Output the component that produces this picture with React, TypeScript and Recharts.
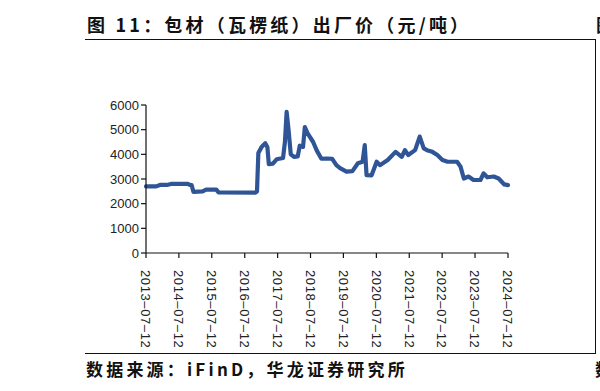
import React from 'react';
import { LineChart, Line, XAxis, YAxis } from 'recharts';

// 瓦楞纸出厂价 (元/吨)
const dates = [
  '2013-07-12', '2013-11-01', '2013-12-15', '2014-03-01', '2014-04-15', '2014-10-20', '2014-11-10',
  '2014-12-01', '2014-12-20', '2015-04-01', '2015-05-10', '2015-09-01', '2015-09-25', '2016-11-10',
  '2016-11-25', '2016-12-10', '2017-01-15', '2017-02-25', '2017-03-20', '2017-04-05', '2017-05-20',
  '2017-07-01', '2017-09-10', '2017-10-01', '2017-10-20', '2017-11-10', '2017-12-05', '2018-01-10',
  '2018-02-20', '2018-03-15', '2018-04-20', '2018-05-10', '2018-06-10', '2018-08-10', '2018-09-20',
  '2018-11-10', '2019-01-10', '2019-03-10', '2019-04-25', '2019-06-05', '2019-08-15', '2019-10-20',
  '2019-12-20', '2020-02-10', '2020-03-05', '2020-03-25', '2020-05-20', '2020-07-15', '2020-08-20',
  '2020-11-15', '2021-02-10', '2021-04-20', '2021-05-25', '2021-07-01', '2021-09-15', '2021-11-05',
  '2021-12-20', '2022-01-25', '2022-03-25', '2022-05-20', '2022-07-15', '2022-09-10', '2022-12-25',
  '2023-02-01', '2023-03-10', '2023-05-01', '2023-06-25', '2023-09-10', '2023-10-15', '2023-11-25',
  '2024-02-05', '2024-03-30', '2024-06-01', '2024-07-12',
];

const prices = [
  2700, 2700, 2760, 2760, 2800, 2800, 2760,
  2750, 2480, 2500, 2570, 2570, 2460, 2450,
  2500, 4050, 4300, 4450, 4300, 3600, 3620,
  3800, 3850, 4500, 5720, 5000, 4000, 3900,
  3920, 4350, 4300, 5100, 4850, 4500, 4150,
  3820, 3830, 3820, 3560, 3440, 3300, 3320,
  3640, 3700, 4370, 3160, 3150, 3700, 3560,
  3770, 4100, 3900, 4170, 3970, 4170, 4720,
  4240, 4170, 4100, 3970, 3770, 3700, 3700,
  3500, 3020, 3100, 2960, 2960, 3230, 3070,
  3100, 3020, 2780, 2750,
];

const xTickLabels = [
  '2013-07-12', '2014-07-12', '2015-07-12', '2016-07-12', '2017-07-12', '2018-07-12',
  '2019-07-12', '2020-07-12', '2021-07-12', '2022-07-12', '2023-07-12', '2024-07-12',
];

const yTicks = [0, 1000, 2000, 3000, 4000, 5000, 6000];

const toTime = (d: string) => Date.parse(d + 'T00:00:00Z');

const data = dates.map((d, i) => ({ t: toTime(d), price: prices[i] }));
const xTicks = xTickLabels.map(toTime);
const labelByTime: Record<number, string> = {};
xTickLabels.forEach((l) => { labelByTime[toTime(l)] = l; });

const LINE_COLOR = '#2f5597';
const TEXT = '#222';

const RotatedTick = (props: any) => {
  const { x, y, payload } = props;
  const label = (labelByTime[payload.value] || '').replace(/-/g, '–');
  return (
    <g transform={`translate(${x},${y + 10}) rotate(90)`}>
      <text x={0} y={0} dy="0.36em" textAnchor="start" fill={TEXT}
        fontSize={13} fontFamily="'Liberation Sans', Arial, sans-serif" letterSpacing={0.6}>
        {label}
      </text>
    </g>
  );
};

const rule: React.CSSProperties = { position: 'absolute', background: '#111' };

export default function App() {
  return (
    <div style={{ position: 'absolute', left: 0, top: 0, width: 600, height: 391, background: '#fff', overflow: 'hidden' }}>
      <div style={{
        position: 'absolute', left: 87, top: 11, fontSize: 18, fontWeight: 700, letterSpacing: 3.2,
        fontFamily: "'Noto Sans CJK SC', sans-serif", color: '#111', whiteSpace: 'nowrap', lineHeight: '26px',
      }}>
        图 11：包材（瓦楞纸）出厂价（元/吨）
      </div>
      <div style={{
        position: 'absolute', left: 596, top: 11, fontSize: 18, fontWeight: 700,
        fontFamily: "'Noto Sans CJK SC', sans-serif", color: '#111', lineHeight: '26px',
      }}>图</div>
      <div style={{ ...rule, left: 85, top: 39, width: 511, height: 1.3 }} />
      <div style={{ ...rule, left: 595, top: 39, width: 1, height: 315 }} />
      <div style={{ ...rule, left: 85, top: 353, width: 511, height: 1.3 }} />

      <LineChart width={600} height={391} data={data}
        margin={{ top: 105, right: 92, left: 106, bottom: 38 }}
        style={{ position: 'absolute', left: 0, top: 0 }}>
        <XAxis dataKey="t" type="number" scale="time" domain={[xTicks[0], xTicks[xTicks.length - 1]]}
          ticks={xTicks} interval={0} height={100} tick={<RotatedTick />}
          axisLine={{ stroke: '#111', strokeWidth: 1.2 }} tickLine={{ stroke: '#111', strokeWidth: 1.2 }} tickSize={5} />
        <YAxis type="number" domain={[0, 6000]} ticks={yTicks} width={40} interval={0}
          axisLine={{ stroke: '#111', strokeWidth: 1.2 }} tickLine={{ stroke: '#111', strokeWidth: 1.2 }} tickSize={5}
          tick={{ fontSize: 13, fill: TEXT, fontFamily: "'Liberation Sans', Arial, sans-serif" }} />
        <Line type="linear" dataKey="price" stroke={LINE_COLOR} strokeWidth={4.2} dot={false}
          strokeLinejoin="round" strokeLinecap="round" isAnimationActive={false} />
      </LineChart>

      <div style={{
        position: 'absolute', left: 86, top: 356, fontSize: 17, fontWeight: 700, letterSpacing: 3.2,
        fontFamily: "'Noto Sans CJK SC', sans-serif", color: '#111', whiteSpace: 'nowrap', lineHeight: '26px',
      }}>
        数据来源：iFinD，华龙证券研究所
      </div>
      <div style={{
        position: 'absolute', left: 595, top: 356, fontSize: 17, fontWeight: 700,
        fontFamily: "'Noto Sans CJK SC', sans-serif", color: '#111', lineHeight: '26px',
      }}>数</div>
    </div>
  );
}
